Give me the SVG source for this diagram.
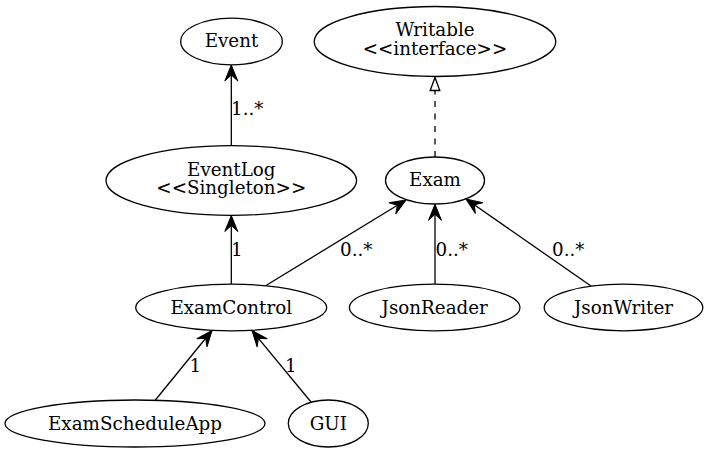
<svg xmlns="http://www.w3.org/2000/svg" width="708" height="454" viewBox="0 0 708 454">
<style>
.n ellipse{fill:none;stroke:#000;stroke-width:1.3}
text{font-family:"DejaVu Serif",serif;font-size:18.3px;fill:#000}
.n text{text-anchor:middle}
.e path{fill:none;stroke:#000;stroke-width:1.3}
.e .d{stroke-dasharray:6,6.5}
</style>
<defs>
<marker id="vee" markerUnits="userSpaceOnUse" markerWidth="20" markerHeight="16" refX="16" refY="0" viewBox="-1 -8 18 16" orient="auto" overflow="visible">
<path d="M0,-6.5 L16,0 L0,6.5 L6,0 Z" fill="#000" stroke="#000" stroke-width="1"/>
</marker>
<marker id="tri" markerUnits="userSpaceOnUse" markerWidth="16" markerHeight="12" refX="13" refY="0" viewBox="-1 -6 15 12" orient="auto" overflow="visible">
<path d="M0,-4.8 L13,0 L0,4.8 Z" fill="#fff" stroke="#000" stroke-width="1.3"/>
</marker>
</defs>
<rect width="708" height="454" fill="#fff"/>
<g id="edges" class="e">
<path d="M231.3,145.7 L231.3,65" marker-end="url(#vee)"/>
<path class="d" d="M435,157 L435,77.5" marker-end="url(#tri)"/>
<path d="M231.3,284 L231.3,215.5" marker-end="url(#vee)"/>
<path d="M266,285.5 L406,200" marker-end="url(#vee)"/>
<path d="M435,284 L435,204.3" marker-end="url(#vee)"/>
<path d="M591,286 L466,199" marker-end="url(#vee)"/>
<path d="M155,400.5 L212,330.5" marker-end="url(#vee)"/>
<path d="M311,402 L252,330.5" marker-end="url(#vee)"/>
<text x="231" y="115">1..*</text>
<text x="231" y="256">1</text>
<text x="340" y="256">0..*</text>
<text x="435.5" y="256">0..*</text>
<text x="552" y="256">0..*</text>
<text x="189.5" y="372">1</text>
<text x="285" y="372">1</text>
</g>
<g id="Event" class="n"><ellipse cx="231.5" cy="41.5" rx="50.8" ry="23.3"/><text x="231.5" y="47.3">Event</text></g>
<g id="Writable" class="n"><ellipse cx="435" cy="41.5" rx="120.8" ry="35"/><text x="435" y="36">Writable</text><text x="435" y="54.5">&lt;&lt;interface&gt;&gt;</text></g>
<g id="EventLog" class="n"><ellipse cx="231.3" cy="180.5" rx="125.3" ry="34.8"/><text x="231.3" y="175.7">EventLog</text><text x="231.3" y="194">&lt;&lt;Singleton&gt;&gt;</text></g>
<g id="Exam" class="n"><ellipse cx="435" cy="180.5" rx="49.5" ry="23.5"/><text x="435" y="186.3">Exam</text></g>
<g id="ExamControl" class="n"><ellipse cx="231.2" cy="307.5" rx="95.5" ry="23.3"/><text x="231.2" y="314">ExamControl</text></g>
<g id="JsonReader" class="n"><ellipse cx="434.7" cy="307.5" rx="85.3" ry="23.3"/><text x="434.7" y="314">JsonReader</text></g>
<g id="JsonWriter" class="n"><ellipse cx="623.5" cy="307.5" rx="79.3" ry="23.3"/><text x="623.5" y="314">JsonWriter</text></g>
<g id="ExamScheduleApp" class="n"><ellipse cx="135" cy="423.5" rx="130" ry="23.5"/><text x="135" y="430">ExamScheduleApp</text></g>
<g id="GUI" class="n"><ellipse cx="328.3" cy="423.5" rx="40" ry="23.5"/><text x="328.3" y="430">GUI</text></g>
</svg>
